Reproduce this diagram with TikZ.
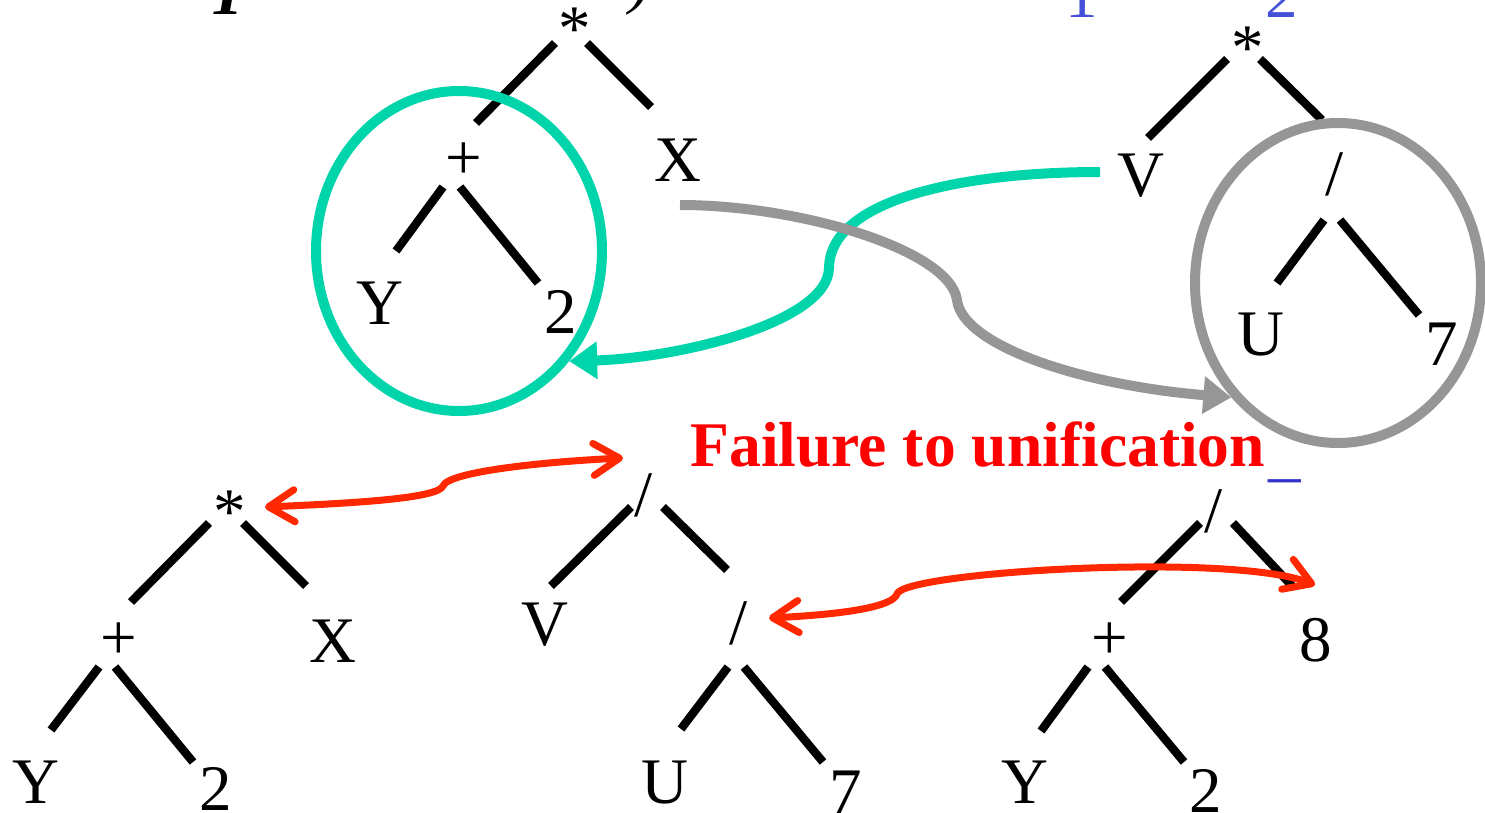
\documentclass[tikz,border=0pt]{standalone}
\usepackage{fontspec}
\setmainfont{Liberation Serif}
\usetikzlibrary{arrows.meta,shapes.geometric}

\definecolor{ringteal}{RGB}{0,212,170}
\definecolor{ringgray}{RGB}{150,150,150}
\definecolor{arrowred}{RGB}{255,40,0}
\definecolor{failred}{RGB}{255,0,0}
\definecolor{titleblue}{RGB}{68,80,216}
\definecolor{cursorblue}{RGB}{51,51,204}

\newcommand{\treefont}{\fontsize{32.5}{39}\selectfont}

\begin{document}
\begin{tikzpicture}[x=0.5pt, y=-0.5pt,
    tn/.style={anchor=base, inner sep=0pt, font=\treefont},
    branch/.style={line width=4.2pt},
    ring/.style={draw=#1, ellipse, line width=5pt, minimum width=143pt, minimum height=160pt, inner sep=0pt},
    swap/.style={draw=#1, line width=5pt, -{Triangle[length=14pt,width=18pt]}},
    clash/.style={draw=arrowred, line width=3.5pt, {Straight Barb[length=13pt,width=16pt,round]}-{Straight Barb[length=13pt,width=16pt,round]}}]
    \useasboundingbox (0,0) rectangle (1485,813);

    % line above, cut off by the frame
    \node[tn, font=\treefont\bfseries\itshape] (capT) at (228,15) {T};
    \node[tn, font=\treefont\itshape] (paren) at (640,2) {)};
    \node[tn, text=titleblue] (one) at (1082,18) {1};
    \node[tn, text=titleblue] (two) at (1282,18) {2};

    % top left tree
    \node[tn] (a0) at (575,51) {*};
    \node[tn] (a1) at (464,180) {+};
    \node[tn] (a2) at (678,182) {X};
    \node[tn] (a3) at (380,324) {Y};
    \node[tn] (a4) at (561,333) {2};
    \draw[branch] ([shift={(-20,-8)}]a0.base) -- ([shift={(12,-57)}]a1.base);
    \draw[branch] ([shift={(12,-8)}]a0.base) -- ([shift={(-27,-75)}]a2.base);
    \draw[branch] ([shift={(-21,7)}]a1.base) -- ([shift={(16,-73)}]a3.base);
    \draw[branch] ([shift={(-4,7)}]a1.base) -- ([shift={(-23,-50)}]a4.base);

    % top right tree
    \node[tn] (b0) at (1248,70) {*};
    \node[tn] (b1) at (1141,197) {V};
    \node[tn] (b2) at (1335,196) {/};
    \node[tn] (b3) at (1261,355) {U};
    \node[tn] (b4) at (1442,365) {7};
    \draw[branch] ([shift={(-21,-11)}]b0.base) -- ([shift={(7,-59)}]b1.base);
    \draw[branch] ([shift={(12,-11)}]b0.base) -- ([shift={(-13,-76)}]b2.base);
    \draw[branch] ([shift={(-11,24)}]b2.base) -- ([shift={(16,-72)}]b3.base);
    \draw[branch] ([shift={(5,24)}]b2.base) -- ([shift={(-23,-50)}]b4.base);

    % bottom left tree
    \node[tn] (c0) at (230,533) {*};
    \node[tn] (c1) at (119,659) {+};
    \node[tn] (c2) at (333,662) {X};
    \node[tn] (c3) at (36,803) {Y};
    \node[tn] (c4) at (216,810) {2};
    \draw[branch] ([shift={(-21,-10)}]c0.base) -- ([shift={(12,-57)}]c1.base);
    \draw[branch] ([shift={(13,-10)}]c0.base) -- ([shift={(-27,-76)}]c2.base);
    \draw[branch] ([shift={(-20,8)}]c1.base) -- ([shift={(15,-73)}]c3.base);
    \draw[branch] ([shift={(-4,8)}]c1.base) -- ([shift={(-23,-48)}]c4.base);

    % bottom middle tree
    \node[tn] (d0) at (644,516) {/};
    \node[tn] (d1) at (545,645) {V};
    \node[tn] (d2) at (739,644) {/};
    \node[tn] (d3) at (665,803) {U};
    \node[tn] (d4) at (846,813) {7};
    \draw[branch] ([shift={(-13,-9)}]d0.base) -- ([shift={(6,-59)}]d1.base);
    \draw[branch] ([shift={(19,-9)}]d0.base) -- ([shift={(-12,-74)}]d2.base);
    \draw[branch] ([shift={(-11,23)}]d2.base) -- ([shift={(16,-74)}]d3.base);
    \draw[branch] ([shift={(5,23)}]d2.base) -- ([shift={(-23,-51)}]d4.base);

    % bottom right tree
    \node[tn] (e0) at (1214,532) {/};
    \node[tn] (e1) at (1110,659) {+};
    \node[tn] (e2) at (1316,661) {8};
    \node[tn] (e3) at (1025,803) {Y};
    \node[tn] (e4) at (1206,812) {2};
    \draw[branch] ([shift={(-14,-9)}]e0.base) -- ([shift={(11,-57)}]e1.base);
    \draw[branch] ([shift={(19,-9)}]e0.base) -- ([shift={(-23,-74)}]e2.base);
    \draw[branch] ([shift={(-22,8)}]e1.base) -- ([shift={(16,-72)}]e3.base);
    \draw[branch] ([shift={(-5,8)}]e1.base) -- ([shift={(-22,-50)}]e4.base);

    % subtrees that get swapped
    \node[ring=ringteal] (tealring) at (459,251) {};
    \node[ring=ringgray] (grayring) at (1338,283) {};
    \draw[swap=ringteal] ([shift={(-41,-25)}]b1.base) .. controls (960,172) and (830,200) .. (829,268)
        .. controls (828,322) and (680,358) .. (tealring.-45);
    \draw[swap=ringgray] ([shift={(2,23)}]a2.base) .. controls (800,205) and (950,250) .. (957,300)
        .. controls (962,345) and (1080,385) .. (grayring.-133);

    % message
    \node[anchor=base west, inner sep=0pt, text=failred, font=\fontsize{31.8}{38}\selectfont\bfseries] (fail) at (690,466) {Failure to unification};
    \node[anchor=base west, inner sep=0pt, text=cursorblue, font=\treefont] (cursor) at (1268,474) {\_};

    % mismatched parts
    \draw[clash] ([shift={(35,-26)}]c0.base) .. controls (360,503) and (438,498) .. (443,486)
        .. controls (448,472) and (540,462) .. ([shift={(-21,-58)}]d0.base);
    \draw[clash] ([shift={(30,-26)}]d2.base) .. controls (850,614) and (893,606) .. (897,594)
        .. controls (903,572) and (1230,552) .. ([shift={(-1,-76)}]e2.base);
\end{tikzpicture}
\end{document}
